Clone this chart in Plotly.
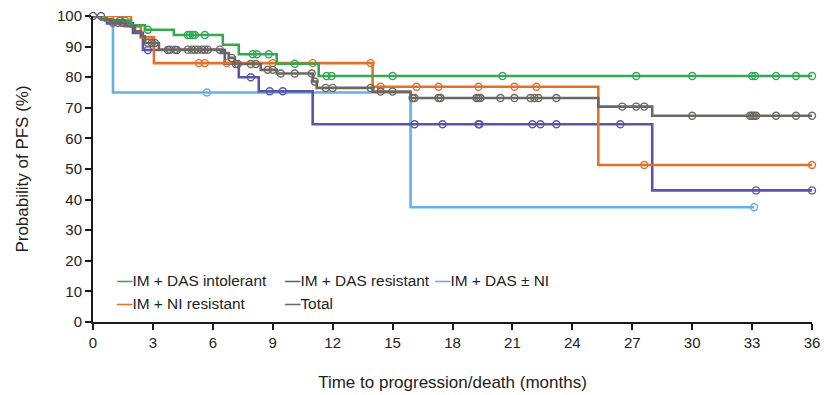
import plotly.graph_objects as go

# ---------------- data ----------------
x_ticks = [0, 3, 6, 9, 12, 15, 18, 21, 24, 27, 30, 33, 36]
y_ticks = [0, 10, 20, 30, 40, 50, 60, 70, 80, 90, 100]

# IM + DAS intolerant
green_t = [0, 0.6, 1.9, 2.6, 4.05, 6.5, 7.3, 9.2, 11.3]
green_s = [100, 98.5, 97.0, 95.5, 93.8, 90.6, 87.5, 84.4, 80.4]
green_end = 36.0
green_c = [1.35, 1.6, 2.75, 4.75, 4.85, 5.0, 5.1, 5.6, 8.0, 8.2, 8.8, 10.1, 11.7,
           11.95, 15.0, 20.5, 27.2, 30.0, 33.0, 33.15, 34.2, 35.2, 36.0]

# IM + DAS resistant
purple_t = [0, 0.7, 2.0, 2.5, 6.6, 7.3, 8.3, 11.0, 28.0]
purple_s = [100, 97.6, 94.5, 88.9, 84.4, 80.0, 75.4, 64.6, 43.0]
purple_end = 36.0
purple_c = [0.4, 2.75, 3.75, 4.2, 7.9, 8.85, 9.5, 16.1, 17.5, 19.3, 19.35, 22.0,
            22.4, 23.2, 26.4, 33.2, 36.0]

# IM + DAS ± NI
blue_t = [0, 1.0, 15.9]
blue_s = [100, 75.0, 37.5]
blue_end = 33.1
blue_c = [5.7, 33.1]

# IM + NI resistant
orange_t = [0, 1.9, 2.4, 3.05, 14.0, 25.3]
orange_s = [100, 96.6, 93.0, 84.6, 76.9, 51.3]
orange_end = 36.0
orange_c = [5.3, 5.6, 6.7, 9.0, 11.0, 13.9, 14.4, 16.2, 17.3, 19.3, 21.1, 22.2,
            27.6, 36.0]

# Total
gray_t = [0, 0.4, 0.9, 1.6, 2.1, 2.4, 2.6, 3.3, 6.4, 6.8, 7.1, 8.4, 9.2, 11.0,
          11.2, 14.0, 15.9, 25.3, 28.0]
gray_s = [100, 98.9, 97.8, 96.7, 95.0, 93.4, 91.2, 89.0, 87.9, 86.3, 84.3, 82.4,
          81.2, 78.6, 76.5, 75.3, 73.2, 70.4, 67.4]
gray_end = 36.0
gray_c = [0.0, 1.0, 1.25, 1.45, 1.5, 2.75, 2.95, 3.1, 3.85, 4.1, 4.75, 4.95, 5.1,
          5.25, 5.45, 5.6, 5.75, 6.35, 6.95, 7.15, 7.25, 7.9, 8.15, 8.75, 9.0,
          9.4, 10.1, 10.95, 11.1, 11.65, 12.0, 13.9, 14.4, 15.0, 16.0, 16.1,
          17.3, 17.4, 19.2, 19.3, 19.4, 20.4, 21.1, 21.9, 22.1, 22.3, 23.2,
          26.5, 27.2, 27.6, 30.0, 32.9, 33.0, 33.1, 33.2, 34.2, 35.2, 36.0]

# ---------------- helpers ----------------
def km_value(times, surv, t):
    v = surv[0]
    for ti, si in zip(times, surv):
        if ti <= t:
            v = si
    return v

FONT = "Liberation Sans, Arial, sans-serif"

GREEN, ORANGE, PURPLE, GRAY, BLUE = "#35a853", "#e2712a", "#5a55a8", "#6e6760", "#66b0e6"

series = [
    ("IM + DAS intolerant", green_t, green_s, green_end, green_c, GREEN),
    ("IM + NI resistant", orange_t, orange_s, orange_end, orange_c, ORANGE),
    ("IM + DAS resistant", purple_t, purple_s, purple_end, purple_c, PURPLE),
    ("Total", gray_t, gray_s, gray_end, gray_c, GRAY),
    ("IM + DAS ± NI", blue_t, blue_s, blue_end, blue_c, BLUE),
]

fig = go.Figure()
draw_order = [4, 2, 1, 0, 3]
for idx in draw_order:
    name, t, s, end, cens, col = series[idx]
    xs = list(t) + [end]
    ys = list(s) + [s[-1]]
    fig.add_trace(go.Scatter(
        x=xs, y=ys, mode="lines", name=name, line=dict(color=col, width=2.6, shape="hv"),
        showlegend=False, hoverinfo="skip", cliponaxis=False))
    fig.add_trace(go.Scatter(
        x=cens, y=[km_value(t, s, c) for c in cens], mode="markers", showlegend=False,
        marker=dict(symbol="circle-open", size=7, color=col, line=dict(width=1.4, color=col)),
        hoverinfo="skip", cliponaxis=False))

# legend drawn as text entries (short coloured dash + label), laid out in two rows
legend_rows = [
    [("IM + DAS intolerant", GREEN, 0.0306), ("IM + DAS resistant", PURPLE, 0.2638),
     ("IM + DAS ± NI", BLUE, 0.4729)],
    [("IM + NI resistant", ORANGE, 0.0306), ("Total", GRAY, 0.2638)],
]
row_y = [0.135, 0.061]
annotations = []
for r, row in enumerate(legend_rows):
    for label, col, xp in row:
        annotations.append(dict(
            xref="paper", yref="paper", x=xp, y=row_y[r], xanchor="left", yanchor="middle",
            showarrow=False, align="left",
            text=f"<span style='color:{col}'><b>\u2014</b></span>{label}",
            font=dict(family=FONT, size=15.4, color="#222")))

fig.update_layout(
    width=833, height=395,
    margin=dict(l=93, r=21, t=16, b=73, autoexpand=False),
    paper_bgcolor="white", plot_bgcolor="white",
    font=dict(family=FONT, size=15, color="#222"),
    showlegend=False,
    annotations=annotations,
    xaxis=dict(range=[0, 36], tickvals=x_ticks, ticktext=[str(v) for v in x_ticks],
               automargin=False,
               showline=True, linecolor="#1a1a1a", linewidth=2, ticks="outside",
               ticklen=6, tickwidth=2, tickcolor="#1a1a1a", showgrid=False, zeroline=False,
               tickfont=dict(family=FONT, size=15, color="#222"),
               title=dict(text="Time to progression/death (months)", standoff=26,
                          font=dict(family=FONT, size=17, color="#222"))),
    yaxis=dict(range=[0, 100], tickvals=y_ticks, ticktext=[str(v) for v in y_ticks],
               automargin=False,
               showline=True, linecolor="#1a1a1a", linewidth=2, ticks="outside",
               ticklen=6, tickwidth=2, tickcolor="#1a1a1a", showgrid=False, zeroline=False,
               tickfont=dict(family=FONT, size=15, color="#222"),
               title=dict(text="Probability of PFS (%)", standoff=24,
                          font=dict(family=FONT, size=17, color="#222"))),
)

fig.write_html("out.html", config={"displayModeBar": False},
               post_script="document.body.style.margin='0';")
